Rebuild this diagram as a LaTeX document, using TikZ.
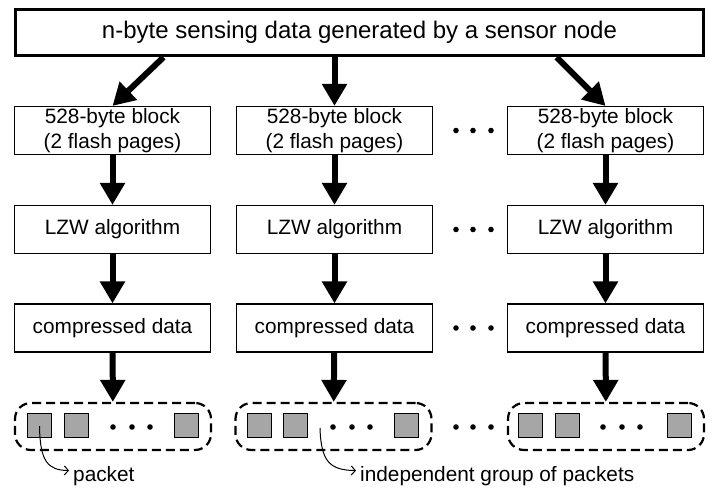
\documentclass[tikz,border=0pt]{standalone}
\usepackage{fontspec}
\setmainfont{Liberation Sans}
\usetikzlibrary{arrows.meta,positioning}

\begin{document}
\begin{tikzpicture}[x=1pt,y=-1pt,
  box/.style={rectangle,draw,line width=1.2pt,minimum width=196pt,minimum height=48pt,inner sep=0pt,align=center,font=\fontsize{20.8}{25}\selectfont},
  pkt/.style={rectangle,draw,line width=1pt,fill=gray!70,minimum size=24pt,inner sep=0pt},
  grp/.style={rectangle,draw,rounded corners=16pt,line width=2.2pt,dash pattern=on 9pt off 5pt,minimum width=196pt,minimum height=47pt,inner sep=0pt},
  flow/.style={line width=6pt,-{Triangle[length=22pt,width=24pt]}},
  note/.style={font=\fontsize{20.8}{25}\selectfont,inner xsep=4pt,inner ysep=0pt}]
\useasboundingbox (0,0) rectangle (724,489);

% Level 0 - Sensor data
\node[rectangle,draw,line width=3.5pt,minimum width=688pt,minimum height=46pt,font=\fontsize{24}{28}\selectfont] (src) at (359.5,32.5) {n-byte sensing data generated by a sensor node};

% Level 1 - Blocks
\node[box] (b11) at (112.5,130.5) {528-byte block\\(2 flash pages)};
\node[box] (b12) at (334.5,130.5) {528-byte block\\(2 flash pages)};
\node[box] (b13) at (605.5,130.5) {528-byte block\\(2 flash pages)};

% Level 2 - Compression
\node[box] (b21) at (112.5,229.5) {LZW algorithm};
\node[box] (b22) at (334.5,229.5) {LZW algorithm};
\node[box] (b23) at (605.5,229.5) {LZW algorithm};

% Level 3 - Output
\node[box] (b31) at (112.5,328) {compressed data};
\node[box] (b32) at (334.5,328) {compressed data};
\node[box] (b33) at (605.5,328) {compressed data};

% Level 4 - Packet groups
\node[grp] (g1) at (113,426.5) {};
\node[grp] (g2) at (333.5,426.5) {};
\node[grp] (g3) at (606,426.5) {};

\node[pkt] (p11) at (39.5,426) {};
\node[pkt] (p12) at (76,426) {};
\node[pkt] (p13) at (186.5,426) {};
\node[pkt] (p21) at (259.5,426) {};
\node[pkt] (p22) at (295.5,426) {};
\node[pkt] (p23) at (406,426) {};
\node[pkt] (p31) at (530,426) {};
\node[pkt] (p32) at (567.5,426) {};
\node[pkt] (p33) at (679.5,426) {};

% Dots
\fill (456,130.5) circle (2.8) (473,130.5) circle (2.8) (491,130.5) circle (2.8);
\fill (456,229.5) circle (2.8) (473,229.5) circle (2.8) (491,229.5) circle (2.8);
\fill (456,328) circle (2.8) (473,328) circle (2.8) (491,328) circle (2.8);
\fill (456,427) circle (2.8) (473,427) circle (2.8) (491,427) circle (2.8);
\fill (113,427) circle (2.8) (132,427) circle (2.8) (150,427) circle (2.8);
\fill (333,427) circle (2.8) (352,427) circle (2.8) (370,427) circle (2.8);
\fill (603,427) circle (2.8) (622,427) circle (2.8) (640,427) circle (2.8);

% Connections
\draw[flow] ([xshift=-196pt]src.south) -- (b11.north);
\draw[flow] (src.south -| b12.north) -- (b12.north);
\draw[flow] ([xshift=197pt]src.south) -- (b13.north);

\draw[flow] (b11) -- (b21);
\draw[flow] (b12) -- (b22);
\draw[flow] (b13) -- (b23);
\draw[flow] (b21) -- (b31);
\draw[flow] (b22) -- (b32);
\draw[flow] (b23) -- (b33);
\draw[flow] (b31) -- (g1);
\draw[flow] (b32) -- (g2);
\draw[flow] (b33) -- (g3);

% Labels
\node[note,anchor=base west] (lbl1) at (69,482) {packet};
\node[note,anchor=base west] (lbl2) at (356,482) {independent group of packets};
\coordinate (gp) at (320,428);

\draw[line width=1pt,-{Straight Barb[length=4pt,width=9pt]}] (p11.center) .. controls (40,462) and (48,470) .. ([yshift=6pt]lbl1.west);
\draw[line width=1pt,-{Straight Barb[length=4pt,width=9pt]}] (gp) .. controls (321,462) and (330,470) .. ([yshift=6pt]lbl2.west);
\end{tikzpicture}
\end{document}
